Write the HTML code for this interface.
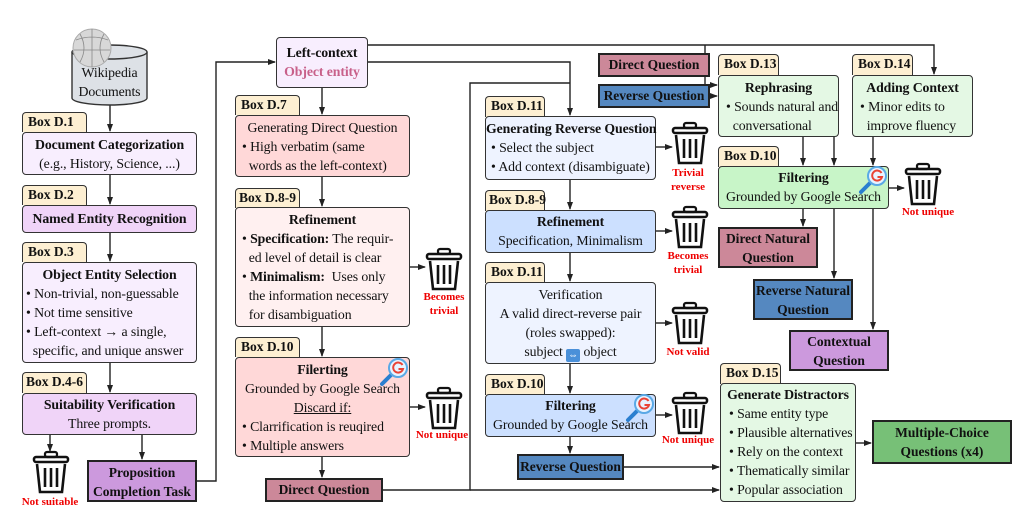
<!DOCTYPE html>
<html><head><meta charset="utf-8">
<style>
body{margin:0;width:1036px;height:519px;background:#fff;position:relative;overflow:hidden;font-family:"Liberation Serif",serif;color:#111}
.b{position:absolute;box-sizing:border-box;border:1.3px solid #333;border-radius:4px;font-size:13.8px;line-height:19px;text-align:center;white-space:nowrap;letter-spacing:-0.1px}
.t{position:absolute;box-sizing:border-box;border:1.3px solid #333;border-radius:4px 4px 0 0;background:#fdefd2;font-weight:bold;font-size:13.5px;line-height:18px;padding-left:5px;border-bottom:none;white-space:nowrap}
.s{position:absolute;box-sizing:border-box;border:2px solid #222;font-weight:bold;font-size:13.5px;line-height:19px;text-align:center;white-space:nowrap}
.l{text-align:left;padding-left:6px}
.r{position:absolute;color:#e00;font-weight:bold;font-size:11px;line-height:14px;text-align:center;width:60px;white-space:nowrap}
svg{position:absolute;left:0;top:0}
</style></head><body>
<svg width="1036" height="519" viewBox="0 0 1036 519">
<defs>
<marker id="a" markerWidth="8" markerHeight="8" refX="7" refY="4" orient="auto" markerUnits="userSpaceOnUse"><path d="M0,1 L8,4 L0,7 z" fill="#222"/></marker>
<g id="tr"><rect x="12" y="0" width="12" height="5" rx="2" fill="none" stroke="#111" stroke-width="2.2"/><rect x="1" y="5" width="34" height="5" rx="2" fill="none" stroke="#111" stroke-width="2.5"/><path d="M4,12 L7,40 L29,40 L32,12" fill="none" stroke="#111" stroke-width="2.6"/><path d="M12,16 V35 M18,16 V35 M24,16 V35" stroke="#111" stroke-width="2.6"/></g>
<g id="gg"><line x1="-6" y1="6" x2="-16" y2="16" stroke="#2a7fd0" stroke-width="4" stroke-linecap="round"/><circle cx="0" cy="0" r="9" fill="#e8f3ff" stroke="#5aa9e6" stroke-width="2"/><path d="M4.5,-3 A5,5 0 1 0 5,1 H0.5" fill="none" stroke="#ea4335" stroke-width="2"/></g>
</defs>
<g stroke="#222" stroke-width="1.4" fill="none">
<line x1="110" y1="105" x2="110" y2="131" marker-end="url(#a)"/>
<line x1="110" y1="175" x2="110" y2="204" marker-end="url(#a)"/>
<line x1="110" y1="233" x2="110" y2="261" marker-end="url(#a)"/>
<line x1="110" y1="363" x2="110" y2="392" marker-end="url(#a)"/>
<line x1="50" y1="435" x2="50" y2="451" marker-end="url(#a)"/>
<line x1="142" y1="435" x2="142" y2="459" marker-end="url(#a)"/>
<polyline points="197,481 216,481 216,62 275,62" marker-end="url(#a)"/>
<line x1="322" y1="88" x2="322" y2="114" marker-end="url(#a)"/>
<line x1="322" y1="177" x2="322" y2="206" marker-end="url(#a)"/>
<line x1="322" y1="327" x2="322" y2="356" marker-end="url(#a)"/>
<line x1="322" y1="457" x2="322" y2="477" marker-end="url(#a)"/>
<line x1="410" y1="267" x2="425" y2="267" marker-end="url(#a)"/>
<line x1="410" y1="407" x2="425" y2="407" marker-end="url(#a)"/>
<polyline points="368,45 934,45 934,74" marker-end="url(#a)"/>
<polyline points="368,62 570,62 570,115" marker-end="url(#a)"/>
<polyline points="383,490 470,490 470,83 570,83"/>
<line x1="470" y1="490" x2="719" y2="490" marker-end="url(#a)"/>
<line x1="570" y1="180" x2="570" y2="209" marker-end="url(#a)"/>
<line x1="570" y1="253" x2="570" y2="281" marker-end="url(#a)"/>
<line x1="570" y1="364" x2="570" y2="393" marker-end="url(#a)"/>
<line x1="570" y1="437" x2="570" y2="453" marker-end="url(#a)"/>
<line x1="656" y1="147" x2="672" y2="147" marker-end="url(#a)"/>
<line x1="656" y1="231" x2="672" y2="231" marker-end="url(#a)"/>
<line x1="656" y1="323" x2="672" y2="323" marker-end="url(#a)"/>
<line x1="656" y1="415" x2="672" y2="415" marker-end="url(#a)"/>
<line x1="624" y1="467" x2="719" y2="467" marker-end="url(#a)"/>
<polyline points="710,64 705,64"/>
<polyline points="705,45 705,85 717,85" marker-end="url(#a)"/>
<line x1="710" y1="96" x2="717" y2="96" marker-end="url(#a)"/>
<line x1="803" y1="137" x2="803" y2="165" marker-end="url(#a)"/>
<line x1="834" y1="137" x2="834" y2="165" marker-end="url(#a)"/>
<line x1="873" y1="137" x2="873" y2="165" marker-end="url(#a)"/>
<line x1="889" y1="188" x2="904" y2="188" marker-end="url(#a)"/>
<line x1="803" y1="209" x2="803" y2="226" marker-end="url(#a)"/>
<line x1="834" y1="209" x2="834" y2="278" marker-end="url(#a)"/>
<line x1="873" y1="209" x2="873" y2="329" marker-end="url(#a)"/>
<line x1="856" y1="443" x2="871" y2="443" marker-end="url(#a)"/>
<path d="M72,52 V98 A37.5,7 0 0 0 147,98 V52" fill="#dde1e6" stroke="#333"/>
<ellipse cx="109.5" cy="52" rx="37.5" ry="7" fill="#dde1e6" stroke="#333"/>
</g>
<circle cx="92" cy="48" r="19" fill="#d8d8d8" stroke="#aaa"/>
<path d="M76,40 Q92,34 108,40 M74,50 H110 M92,29 V67 M80,34 Q88,48 80,62 M104,34 Q96,48 104,62" stroke="#888" stroke-width="0.8" fill="none"/>
<use href="#tr" x="33" y="452"/>
<use href="#tr" x="426" y="249"/>
<use href="#tr" x="426" y="388"/>
<use href="#tr" x="672" y="123"/>
<use href="#tr" x="672" y="207"/>
<use href="#tr" x="672" y="303"/>
<use href="#tr" x="672" y="393"/>
<use href="#tr" x="905" y="164"/>
</svg>
<div class="b" style="left:72px;top:63px;width:75px;border:none;background:none">Wikipedia<br>Documents</div>

<div class="t" style="left:22px;top:112px;width:65px;height:20px">Box D.1</div>
<div class="b" style="left:22px;top:132px;width:175px;height:43px;background:#f8eefe;padding-top:2px"><b>Document Categorization</b><br>(e.g., History, Science, ...)</div>
<div class="t" style="left:22px;top:185px;width:65px;height:20px">Box D.2</div>
<div class="b" style="left:22px;top:205px;width:175px;height:28px;background:#f0d4f8;line-height:26px"><b>Named Entity Recognition</b></div>
<div class="t" style="left:22px;top:242px;width:65px;height:20px">Box D.3</div>
<div class="b" style="left:22px;top:262px;width:175px;height:101px;background:#f8eefe;padding-top:2px"><b>Object Entity Selection</b><div class="l" style="padding-left:3px">• Non-trivial, non-guessable<br>• Not time sensitive<br>• Left-context → a single,<br>&nbsp;&nbsp;specific, and unique answer</div></div>
<div class="t" style="left:22px;top:372px;width:65px;height:21px;padding-left:3px">Box D.4-6</div>
<div class="b" style="left:22px;top:393px;width:175px;height:42px;background:#f0d4f8;padding-top:1px"><b>Suitability Verification</b><br>Three prompts.</div>
<div class="r" style="left:20px;top:495px">Not suitable</div>
<div class="s" style="left:87px;top:460px;width:110px;height:42px;background:#cc99dd;padding-top:1px">Proposition<br>Completion Task</div>

<div class="b" style="left:276px;top:37px;width:92px;height:51px;background:#f8eefe;padding-top:5px"><b>Left-context</b><br><b style="color:#c8608a">Object entity</b></div>

<div class="t" style="left:235px;top:95px;width:65px;height:20px">Box D.7</div>
<div class="b" style="left:235px;top:115px;width:175px;height:62px;background:#ffd8d8;padding-top:2px">Generating Direct Question<div class="l">• High verbatim (same<br>&nbsp;&nbsp;words as the left-context)</div></div>
<div class="t" style="left:235px;top:188px;width:65px;height:20px;padding-left:3px">Box D.8-9</div>
<div class="b" style="left:235px;top:207px;width:175px;height:120px;background:#fff0f0;padding-top:2px"><b>Refinement</b><div class="l">• <b>Specification:</b> The requir-<br>&nbsp;&nbsp;ed level of detail is clear<br>• <b>Minimalism:</b>&nbsp; Uses only<br>&nbsp;&nbsp;the information necessary<br>&nbsp;&nbsp;for disambiguation</div></div>
<div class="r" style="left:414px;top:290px">Becomes<br>trivial</div>
<div class="t" style="left:235px;top:337px;width:65px;height:20px">Box D.10</div>
<div class="b" style="left:235px;top:357px;width:175px;height:100px;background:#ffd8d8;padding-top:2px"><b>Filerting</b><br>Grounded by Google Search<br><u>Discard if:</u><div class="l">• Clarrification is reuqired<br>• Multiple answers</div></div>
<div class="r" style="left:412px;top:428px">Not unique</div>
<div class="s" style="left:265px;top:478px;width:118px;height:24px;background:#cc8899;line-height:20px">Direct Question</div>

<div class="t" style="left:485px;top:96px;width:60px;height:21px">Box D.11</div>
<div class="b" style="left:485px;top:116px;width:171px;height:64px;background:#eef3ff;padding-top:2px"><b>Generating Reverse Question</b><div class="l" style="padding-left:5px">• Select the subject<br>• Add context (disambiguate)</div></div>
<div class="r" style="left:658px;top:166px">Trivial<br>reverse</div>
<div class="t" style="left:485px;top:190px;width:60px;height:21px;padding-left:3px">Box D.8-9</div>
<div class="b" style="left:485px;top:210px;width:171px;height:43px;background:#cce0ff;padding-top:1px"><b>Refinement</b><br>Specification, Minimalism</div>
<div class="r" style="left:658px;top:249px">Becomes<br>trivial</div>
<div class="t" style="left:485px;top:262px;width:60px;height:21px">Box D.11</div>
<div class="b" style="left:485px;top:282px;width:171px;height:82px;background:#eef3ff;padding-top:2px">Verification<br>A valid direct-reverse pair<br>(roles swapped):<br>subject <span style="display:inline-block;width:14px;height:13px;background:#4a90d9;border-radius:2px;color:#fff;font-size:10px;line-height:13px;vertical-align:-2px">⇔</span> object</div>
<div class="r" style="left:658px;top:345px">Not valid</div>
<div class="t" style="left:485px;top:374px;width:60px;height:21px">Box D.10</div>
<div class="b" style="left:485px;top:394px;width:171px;height:43px;background:#cce0ff;padding-top:1px"><b>Filtering</b><br>Grounded by Google Search</div>
<div class="r" style="left:658px;top:433px">Not unique</div>
<div class="s" style="left:517px;top:454px;width:107px;height:26px;background:#5588c0;line-height:22px">Reverse Question</div>

<div class="s" style="left:598px;top:53px;width:112px;height:24px;background:#cc8899;line-height:20px">Direct Question</div>
<div class="s" style="left:598px;top:84px;width:112px;height:24px;background:#5588c0;line-height:20px">Reverse Question</div>
<div class="t" style="left:718px;top:54px;width:61px;height:21px">Box D.13</div>
<div class="b" style="left:718px;top:75px;width:121px;height:62px;background:#e4f8e4;padding-top:2px"><b>Rephrasing</b><div class="l" style="padding-left:7px">• Sounds natural and<br>&nbsp;&nbsp;conversational</div></div>
<div class="t" style="left:852px;top:54px;width:61px;height:21px">Box D.14</div>
<div class="b" style="left:852px;top:75px;width:121px;height:62px;background:#e4f8e4;padding-top:2px"><b>Adding Context</b><div class="l" style="padding-left:7px">• Minor edits to<br>&nbsp;&nbsp;improve fluency</div></div>
<div class="t" style="left:718px;top:146px;width:61px;height:21px">Box D.10</div>
<div class="b" style="left:718px;top:166px;width:171px;height:43px;background:#c8f5c8;padding-top:1px"><b>Filtering</b><br>Grounded by Google Search</div>
<div class="r" style="left:898px;top:205px">Not unique</div>
<div class="s" style="left:718px;top:227px;width:100px;height:41px;background:#cc8899">Direct Natural<br>Question</div>
<div class="s" style="left:753px;top:279px;width:100px;height:41px;background:#5588c0">Reverse Natural<br>Question</div>
<div class="s" style="left:789px;top:330px;width:100px;height:41px;background:#cc99dd">Contextual<br>Question</div>

<div class="t" style="left:720px;top:363px;width:61px;height:21px">Box D.15</div>
<div class="b" style="left:720px;top:383px;width:136px;height:119px;background:#e4f8e4;padding-top:1px"><b>Generate Distractors</b><div class="l" style="padding-left:8px">• Same entity type<br>• Plausible alternatives<br>• Rely on the context<br>• Thematically similar<br>• Popular association</div></div>
<div class="s" style="left:872px;top:420px;width:140px;height:44px;background:#77c077;padding-top:1px">Multiple-Choice<br>Questions (x4)</div>

<svg width="1036" height="519" viewBox="0 0 1036 519"><use href="#gg" x="398" y="368"/><use href="#gg" x="644" y="404"/><use href="#gg" x="877" y="176"/></svg>
</body></html>
